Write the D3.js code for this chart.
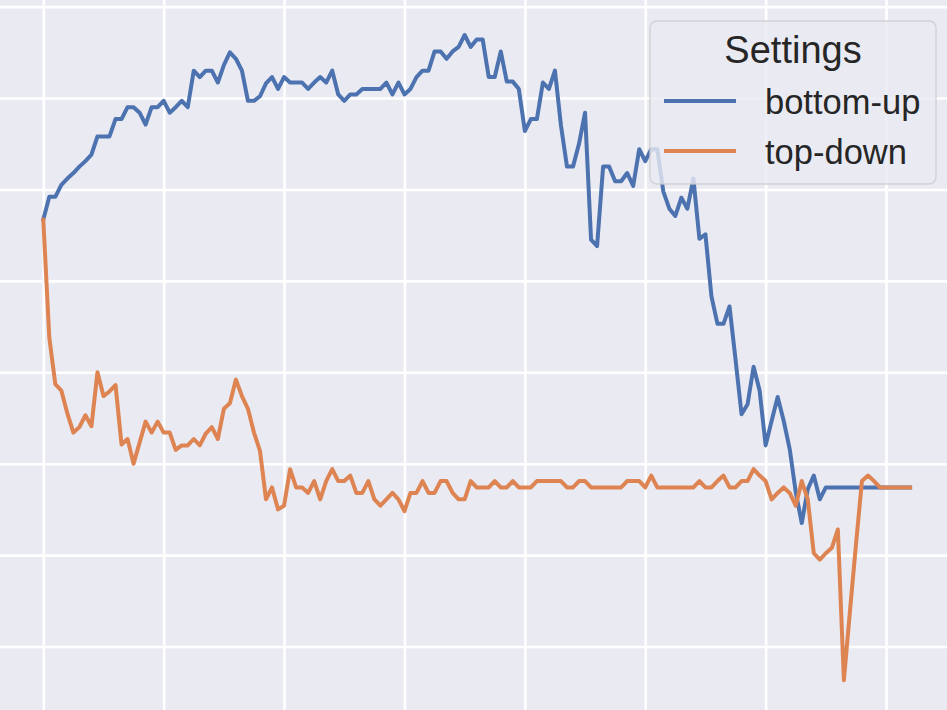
<!DOCTYPE html>
<html>
<head>
<meta charset="utf-8">
<script src="https://cdn.jsdelivr.net/npm/d3@7"></script>
<style>
  html, body { margin: 0; padding: 0; background: #ffffff; }
  svg { display: block; }
</style>
</head>
<body>
<svg id="chart"></svg>
<script>
// series, one value per step (step = position in the array)
const bottomUp = [
  4.67, 4.92, 4.92, 5.05, 5.12, 5.18, 5.25, 5.31, 5.38, 5.58,
  5.58, 5.58, 5.77, 5.77, 5.90, 5.90, 5.84, 5.71, 5.90, 5.90,
  5.97, 5.84, 5.90, 5.97, 5.90, 6.30, 6.23, 6.30, 6.30, 6.17,
  6.36, 6.50, 6.43, 6.30, 5.97, 5.97, 6.02, 6.16, 6.23, 6.10,
  6.23, 6.17, 6.17, 6.17, 6.10, 6.17, 6.23, 6.17, 6.30, 6.04,
  5.97, 6.04, 6.04, 6.10, 6.10, 6.10, 6.10, 6.17, 6.04, 6.17,
  6.04, 6.10, 6.23, 6.30, 6.30, 6.51, 6.51, 6.43, 6.51, 6.56,
  6.69, 6.56, 6.64, 6.64, 6.23, 6.23, 6.51, 6.18, 6.18, 6.10,
  5.64, 5.77, 5.77, 6.17, 6.10, 6.30, 5.70, 5.25, 5.25, 5.50,
  5.84, 4.45, 4.38, 5.25, 5.25, 5.09, 5.09, 5.18, 5.04, 5.44,
  5.31, 5.44, 5.44, 4.98, 4.79, 4.71, 4.91, 4.79, 5.12, 4.46,
  4.51, 3.83, 3.53, 3.53, 3.72, 3.14, 2.54, 2.65, 3.06, 2.80,
  2.20, 2.47, 2.73, 2.47, 2.16, 1.69, 1.35, 1.72, 1.87, 1.61,
  1.74, 1.74, 1.74, 1.74, 1.74, 1.74, 1.74, 1.74, 1.74, 1.74,
  1.74, 1.74, 1.74, 1.74, 1.74
];

const topDown = [
  4.67, 3.38, 2.87, 2.80, 2.55, 2.34, 2.40, 2.53, 2.41, 3.00,
  2.74, 2.79, 2.86, 2.21, 2.27, 2.00, 2.23, 2.46, 2.34, 2.46,
  2.34, 2.34, 2.15, 2.20, 2.20, 2.27, 2.20, 2.33, 2.40, 2.27,
  2.60, 2.66, 2.92, 2.74, 2.60, 2.34, 2.14, 1.61, 1.74, 1.50,
  1.54, 1.94, 1.74, 1.74, 1.68, 1.81, 1.61, 1.81, 1.94, 1.81,
  1.81, 1.87, 1.68, 1.68, 1.81, 1.61, 1.54, 1.61, 1.68, 1.61,
  1.48, 1.68, 1.68, 1.81, 1.68, 1.68, 1.81, 1.81, 1.68, 1.61,
  1.61, 1.81, 1.74, 1.74, 1.74, 1.81, 1.74, 1.74, 1.81, 1.74,
  1.74, 1.74, 1.81, 1.81, 1.81, 1.81, 1.81, 1.74, 1.74, 1.81,
  1.81, 1.74, 1.74, 1.74, 1.74, 1.74, 1.74, 1.81, 1.81, 1.81,
  1.74, 1.87, 1.74, 1.74, 1.74, 1.74, 1.74, 1.74, 1.74, 1.81,
  1.74, 1.74, 1.81, 1.87, 1.74, 1.74, 1.81, 1.81, 1.94, 1.87,
  1.81, 1.61, 1.68, 1.74, 1.68, 1.54, 1.81, 1.61, 1.02, 0.95,
  1.02, 1.08, 1.28, -0.37, 0.38, 1.11, 1.81, 1.87, 1.81, 1.74,
  1.74, 1.74, 1.74, 1.74, 1.74
];

const seriesNames = ["bottom-up", "top-down"];
const seriesColors = ["#4c72b0", "#dd8452"];
const legendTitle = "Settings";

let width = 947;
let height = 710;

let svg = d3.select("#chart")
  .attr("width", width)
  .attr("height", height);

// the axes area is bigger than the picture, so only the inside shows
let xScale = d3.scaleLinear()
  .domain([-7.19, 150.13])
  .range([0, width]);

let yScale = d3.scaleLinear()
  .domain([-0.695, 7.073])
  .range([height, 0]);

svg.append("rect")
  .attr("width", width)
  .attr("height", height)
  .attr("fill", "#eaeaf2");

// grid
let xGrid = d3.axisBottom(xScale).ticks(8).tickSize(-height).tickFormat("");
let yGrid = d3.axisLeft(yScale).ticks(8).tickSize(-width).tickFormat("");

svg.append("g")
  .attr("transform", `translate(0, ${height})`)
  .call(xGrid)
  .call(g => g.select(".domain").remove())
  .call(g => g.selectAll("line").attr("stroke", "#ffffff").attr("stroke-width", 2.6));

svg.append("g")
  .call(yGrid)
  .call(g => g.select(".domain").remove())
  .call(g => g.selectAll("line").attr("stroke", "#ffffff").attr("stroke-width", 2.6));

const line = d3.line()
  .x((d, i) => xScale(i))
  .y(d => yScale(d));

[bottomUp, topDown].forEach((values, k) => {
  svg.append("path")
    .datum(values)
    .attr("d", line)
    .attr("fill", "none")
    .attr("stroke", seriesColors[k])
    .attr("stroke-width", 4)
    .attr("stroke-linejoin", "round")
    .attr("stroke-linecap", "square");
});

// legend
let legend = svg.append("g");

legend.append("rect")
  .attr("x", 650)
  .attr("y", 21)
  .attr("width", 286)
  .attr("height", 163)
  .attr("rx", 7)
  .attr("fill", "#eaeaf2")
  .attr("fill-opacity", 0.8)
  .attr("stroke", "#cccccc")
  .attr("stroke-opacity", 0.8)
  .attr("stroke-width", 1.4);

legend.append("text")
  .attr("x", 793)
  .attr("y", 63)
  .attr("text-anchor", "middle")
  .attr("font-family", "'Liberation Sans', Arial, sans-serif")
  .attr("font-size", 38)
  .attr("fill", "#262626")
  .text(legendTitle);

seriesNames.forEach((name, k) => {
  let y = 101 + k * 50;
  legend.append("line")
    .attr("x1", 664)
    .attr("x2", 736)
    .attr("y1", y)
    .attr("y2", y)
    .attr("stroke", seriesColors[k])
    .attr("stroke-width", 4);
  legend.append("text")
    .attr("x", 765)
    .attr("y", y + 13)
    .attr("font-family", "'Liberation Sans', Arial, sans-serif")
    .attr("font-size", 34.5)
    .attr("fill", "#262626")
    .text(name);
});
</script>
</body>
</html>
